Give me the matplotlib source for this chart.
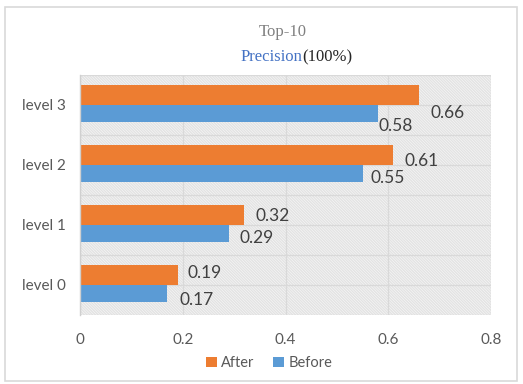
import matplotlib
matplotlib.use("Agg")
import matplotlib.pyplot as plt
from matplotlib.patches import Rectangle

# Data
categories = ["level 0", "level 1", "level 2", "level 3"]
after = [0.19, 0.32, 0.61, 0.66]
before = [0.17, 0.29, 0.55, 0.58]
x_ticks = [0, 0.2, 0.4, 0.6, 0.8]
x_tick_labels = ["0", "0.2", "0.4", "0.6", "0.8"]

# Label nudges in pixels (dx, dy) so the numbers don't collide
after_offsets = [(10, 2), (11, -1), (11, -6), (11, -18)]
before_offsets = [(12, -7), (11, -5), (8, -5), (1, -13)]

ORANGE = "#ED7D31"
BLUE = "#5B9BD5"
GRID = "#D9D9D9"
TEXT = "#595959"

plt.rcParams["font.family"] = ["Lato", "DejaVu Sans"]
plt.rcParams["hatch.linewidth"] = 1.1

W, H = 523, 384
fig = plt.figure(figsize=(W / 100, H / 100), dpi=100)
fig.patch.set_facecolor("white")

L, R, T, B = 80, 491, 75, 315
ax = fig.add_axes([L / W, 1 - B / H, (R - L) / W, (B - T) / H])

# Hatched plot background
ax.set_facecolor("white")
ax.add_patch(Rectangle((0, 0), 1, 1, transform=ax.transAxes, facecolor="white",
                       edgecolor="#E3E3E3", hatch="\\" * 12, linewidth=0, zorder=0))

y = list(range(len(categories)))
ax.barh(y, after, height=0.34, align="edge", color=ORANGE, zorder=2)
ax.barh(y, before, height=-0.28, align="edge", color=BLUE, zorder=2)

for i in y:
    ax.annotate(f"{after[i]:.2f}", (after[i], i + 0.17), xytext=after_offsets[i],
                textcoords="offset pixels", ha="left", va="center",
                fontsize=12.5, color="#404040", zorder=3)
    ax.annotate(f"{before[i]:.2f}", (before[i], i - 0.14), xytext=before_offsets[i],
                textcoords="offset pixels", ha="left", va="center",
                fontsize=12.5, color="#404040", zorder=3)

ax.set_xlim(0, 0.8)
ax.set_ylim(-0.5, 3.5)
ax.set_xticks(x_ticks)
ax.set_xticklabels(x_tick_labels)
ax.set_yticks(y)
ax.set_yticklabels(categories)
ax.tick_params(axis="both", length=0, labelsize=11, labelcolor=TEXT)
ax.tick_params(axis="x", pad=13)
ax.tick_params(axis="y", pad=10)

for xv in x_ticks:
    ax.axvline(xv, color=GRID, lw=0.9, zorder=1)
for k in range(9):
    ax.axhline(-0.5 + 0.5 * k, color=GRID, lw=0.9, zorder=1)

for s in ["top", "right", "bottom"]:
    ax.spines[s].set_visible(False)
ax.spines["left"].set_color("#D0D0D0")
ax.spines["left"].set_linewidth(1.0)
ax.spines["left"].set_zorder(4)

# Titles
fig.text(283 / W, 1 - 32 / H, "Top-10", ha="center", va="center",
         family="Liberation Serif", fontsize=12, color="#808080")
split = 302 / W
fig.text(split, 1 - 57 / H, "Precision", ha="right", va="center",
         family="Liberation Serif", fontsize=12, color="#4472C4")
fig.text(split, 1 - 57 / H, "(100%)", ha="left", va="center",
         family="Liberation Serif", fontsize=12, color="#262626")

# Legend
h1 = Rectangle((0, 0), 1, 1, facecolor=ORANGE)
h2 = Rectangle((0, 0), 1, 1, facecolor=BLUE)
fig.legend([h1, h2], ["After", "Before"], loc="center",
           bbox_to_anchor=(269 / W, 1 - 363 / H), ncol=2, frameon=False,
           handlelength=0.75, handleheight=0.75, handletextpad=0.3,
           columnspacing=1.3, fontsize=10.5, labelcolor=TEXT)

# Chart frame
fig.add_artist(Rectangle((5 / W, 1 - 381 / H), 512 / W, 374 / H,
                         transform=fig.transFigure, fill=False,
                         edgecolor="#D9D9D9", linewidth=1.2))

fig.savefig("out.png", dpi=100)
